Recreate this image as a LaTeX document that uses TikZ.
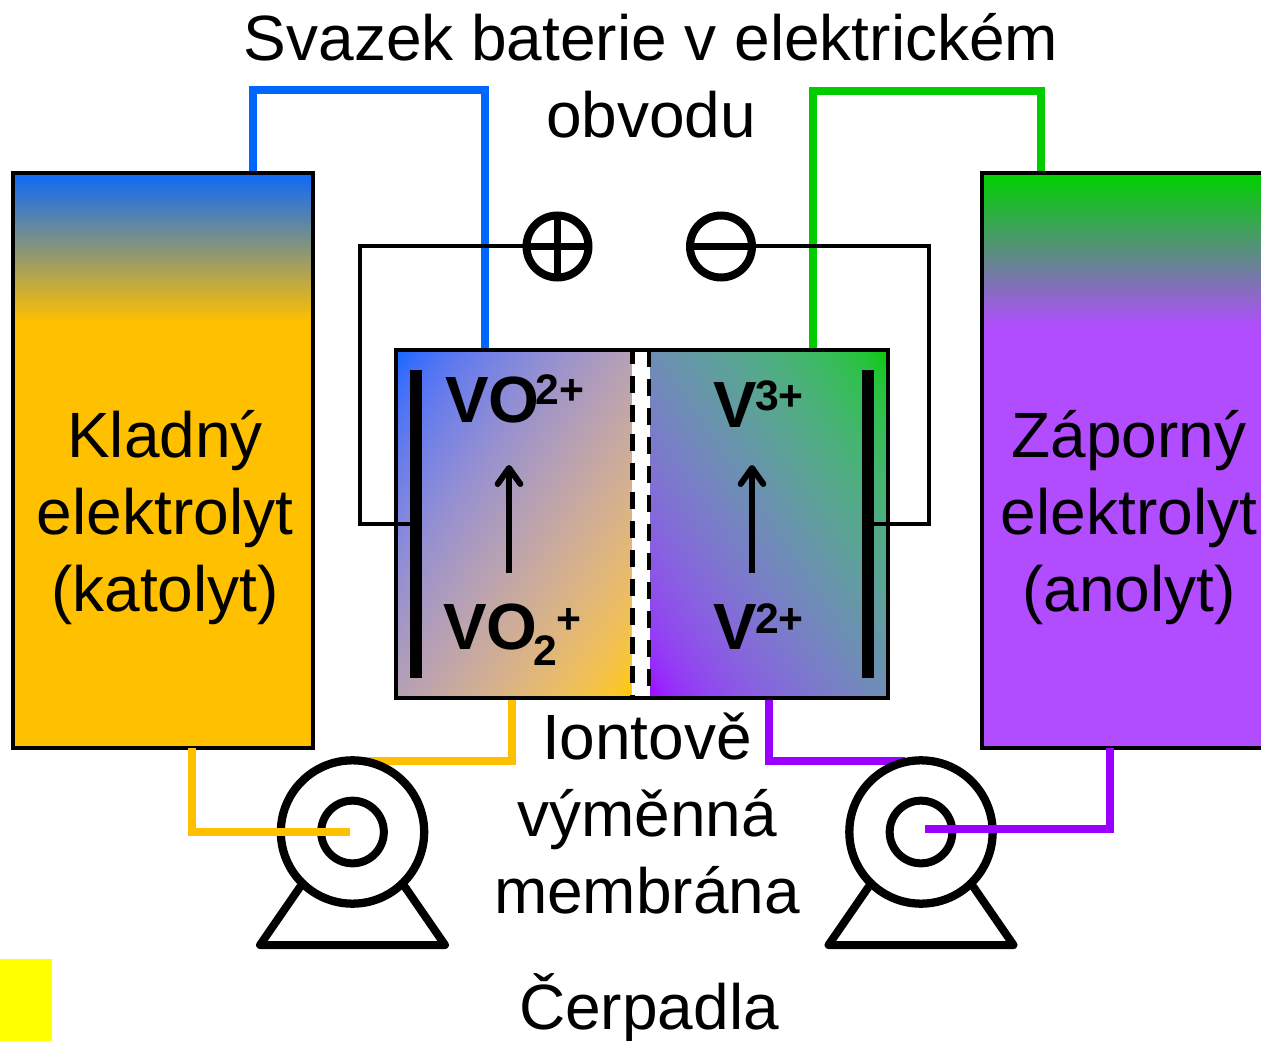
\documentclass[tikz,border=0pt]{standalone}
\usepackage{fontspec}
\setmainfont{Liberation Sans}
\usetikzlibrary{arrows.meta}
\pgfdeclarefunctionalshading{cellLeft}{\pgfpointorigin}{\pgfpoint{100bp}{100bp}}{}{
 100 exch sub add 200 div
 1.04 mul 0.02 sub dup 0 lt {pop 0} if dup 1 gt {pop 1} if
 dup 0.986 mul 0.0138 add sqrt exch
 dup 0.445 mul 0.170 add sqrt exch
 -1 mul 1 add sqrt
}
\pgfdeclarefunctionalshading{cellRight}{\pgfpointorigin}{\pgfpoint{100bp}{100bp}}{}{
 add 200 div
 1.04 mul 0.02 sub dup 0 lt {pop 0} if dup 1 gt {pop 1} if
 dup -0.361 mul 0.365 add sqrt exch
 dup 0.609 mul 0.006 add sqrt exch
 -0.996 mul 1 add sqrt
}
\definecolor{pipeBlue}{RGB}{0,102,255}
\definecolor{pipeGreen}{RGB}{0,204,0}
\definecolor{pipeGold}{RGB}{255,192,0}
\definecolor{pipePurple}{RGB}{153,0,255}
\definecolor{tankBlue}{RGB}{16,106,245}
\definecolor{tankGreen}{RGB}{0,208,0}
\definecolor{tankViolet}{RGB}{178,76,255}
\definecolor{markYellow}{RGB}{255,255,0}
\tikzset{
  x=0.75pt,y=-0.75pt,
  label text/.style={font=\fontsize{48}{57.75}\selectfont,align=center,inner sep=0pt,outer sep=0pt},
  ion/.style={font=\fontsize{49}{55}\bfseries\selectfont,anchor=base west,inner sep=0pt,outer sep=0pt},
  ionsmall/.style={font=\fontsize{32}{36}\bfseries\selectfont,anchor=base west,inner sep=0pt,outer sep=0pt},
  tank/.style={draw=black,line width=3.5pt,inner sep=0pt,outer sep=0pt,anchor=north west},
  pipe/.style={line width=6pt,line join=miter},
  wire/.style={line width=3pt,line join=miter},
  electrode/.style={fill=black,draw=none,inner sep=0pt,outer sep=0pt,minimum width=9pt,minimum height=231pt},
  ringout/.style={circle,draw=black,fill=white,line width=6.2pt,minimum size=107.5pt,inner sep=0pt,outer sep=0pt},
  ringin/.style={circle,draw=black,fill=white,line width=6pt,minimum size=47pt,inner sep=0pt,outer sep=0pt},
  polarity/.style={circle,draw=black,fill=white,line width=6pt,minimum size=46.5pt,inner sep=0pt,outer sep=0pt},
  basepump/.style={line width=6pt,line join=round,line cap=round},
  reaction/.style={line width=4.5pt,-{Straight Barb[length=12pt,width=17pt,round]}},
  membraneline/.style={line width=3.3pt},
}
\begin{document}
\begin{tikzpicture}
\useasboundingbox (0,0) rectangle (1261,1041);
% coordinates
\coordinate (blueA) at (253,173); \coordinate (blueB) at (485,350); \coordinate (blueTop) at (0,90);
\coordinate (greenA) at (813,350); \coordinate (greenB) at (1041,173); \coordinate (greenTop) at (0,91);
\coordinate (goldA) at (192,748); \coordinate (goldB) at (350,832);
\coordinate (goldC) at (512,698); \coordinate (goldD) at (360,761);
\coordinate (purpA) at (769,698); \coordinate (purpB) at (905,761);
\coordinate (purpC) at (1110,748); \coordinate (purpD) at (925,829);
\coordinate (wireLx) at (360,0); \coordinate (wireRx) at (929,0);
% yellow
\fill[markYellow] (0,959) rectangle (52,1041);
% pipes behind
\draw[pipe,pipeBlue] (blueA) -- (blueA |- blueTop) -- (blueB |- blueTop) -- (blueB);
\draw[pipe,pipeGreen] (greenA) -- (greenA |- greenTop) -- (greenB |- greenTop) -- (greenB);
\draw[pipe,pipeGold] (goldC) -- (goldC |- goldD) -- (goldD);
\draw[pipe,pipePurple] (purpA) -- (purpA |- purpB) -- (purpB);
% tanks
\fill[pipeGold] (13,321) rectangle (313,748);
\shade[top color=tankBlue,bottom color=pipeGold] (13,175) rectangle (313,322);
\node[tank,minimum width=225pt,minimum height=431.25pt] (tankL) at (13,173) {};
\fill[tankViolet] (982,327) rectangle (1270,748);
\shade[top color=tankGreen,bottom color=tankViolet] (982,175) rectangle (1270,328);
\node[tank,minimum width=216pt,minimum height=431.25pt] (tankR) at (982,173) {};
% wires
\node[polarity] (plus) at (557.5,246.5) {};
\node[polarity] (minus) at (721,246.5) {};
\draw[line width=5.25pt] (plus.west) -- (plus.east) (plus.north) -- (plus.south);
\draw[line width=5.25pt] (minus.west) -- (minus.east);
% cell
\node[inner sep=0pt,outer sep=0pt,anchor=south west,transform shape,xscale=1.7634,yscale=2.6002] (panelL) at (396,698) {\pgfuseshading{cellLeft}};
\node[inner sep=0pt,outer sep=0pt,anchor=south west,transform shape,xscale=1.7858,yscale=2.6002] (panelR) at (649,698) {\pgfuseshading{cellRight}};
\fill[white] (632,350) rectangle (649,698);
\coordinate (cellTopA) at (632.5,350); \coordinate (cellBotA) at (632.5,698);
\coordinate (cellTopB) at (649,350); \coordinate (cellBotB) at (649,698);
\draw[membraneline,dash pattern=on 12.75pt off 9pt,dash phase=2.25pt] (cellTopA) -- (cellBotA);
\draw[membraneline,dash pattern=on 12.75pt off 9pt] (cellTopB) -- (cellBotB);
\draw[line width=3.3pt] (396,350) rectangle (888,698);
\node[electrode] (elL) at (415.5,524) {};
\node[electrode] (elR) at (867.5,524) {};
\draw[wire] (plus.west) -- (plus.west -| wireLx) -- (elL.west -| wireLx) -- (elL.west);
\draw[wire] (minus.east) -- (minus.east -| wireRx) -- (elR.east -| wireRx) -- (elR.east);
% reaction arrows
\coordinate (a1s) at (509,573); \coordinate (a1e) at (509,465);
\coordinate (a2s) at (752,573); \coordinate (a2e) at (752,465);
\draw[reaction] (a1s) -- (a1e);
\draw[reaction] (a2s) -- (a2e);
% ions
\node[ion] (vo2p) at (445,422) {VO};
\node[ionsmall] at (535.5,405) {2+};
\node[ion] (vo2) at (443,649) {VO};
\node[ionsmall] at (533.5,665) {2};
\node[ionsmall] at (556,633) {+};
\node[ion] (v3) at (713,427) {V};
\node[ionsmall] at (755,411) {3+};
\node[ion] (v2) at (713,649) {V};
\node[ionsmall] at (755,633) {2+};
% pumps
\foreach \n/\cx in {A/352.5,B/921}{
  \coordinate (b\n1) at (\cx-52.5,887); \coordinate (b\n2) at (\cx-92.5,945);
  \coordinate (b\n3) at (\cx+92.5,945); \coordinate (b\n4) at (\cx+52.5,887);
  \draw[basepump] (b\n1) -- (b\n2) -- (b\n3) -- (b\n4);
  \node[ringout] (pumpout\n) at (\cx,832) {};
  \node[ringin] (pumpin\n) at (\cx,832) {};
}
\draw[pipe,pipeGold] (goldA) -- (goldA |- goldB) -- (goldB);
\draw[pipe,pipePurple] (purpC) -- (purpC |- purpD) -- (purpD);
% labels
\node[label text] (title) at (651,76) {Svazek baterie v elektrickém\\obvodu};
\node[label text] (kladny) at (165,518) {Kladný\\elektrolyt\\(katolyt)};
\node[label text] (zaporny) at (1129,518) {Záporný\\elektrolyt\\(anolyt)};
\node[label text] (membrane) at (647,814) {Iontově\\výměnná\\membrána};
\node[label text] (pumps) at (649,1008) {Čerpadla};
\end{tikzpicture}
\end{document}
